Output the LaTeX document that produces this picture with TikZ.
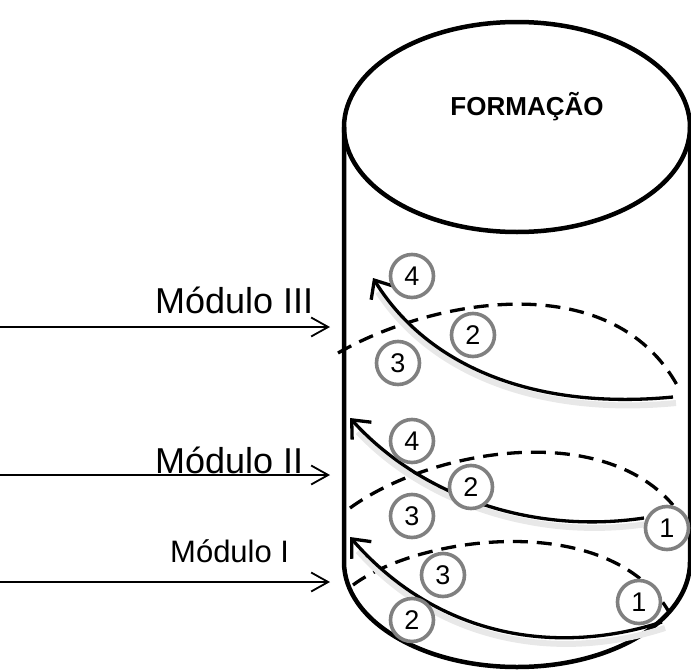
\documentclass[tikz,border=0pt]{standalone}
\usepackage{fontspec}
\setmainfont{Liberation Sans}
\usetikzlibrary{arrows.meta}
\definecolor{ringgray}{HTML}{808080}
\tikzset{
  cyl/.style={line width=4.5pt, black},
  backring/.style={line width=3.3pt, dash pattern=on 15pt off 9pt},
  frontring/.style={line width=3.3pt, -{Straight Barb[length=15pt,width=26pt,line width=3.3pt]}},
  shadowring/.style={line width=6pt, black!9},
  modarrow/.style={line width=1.8pt, -{Straight Barb[length=17pt,width=19pt,line width=1.8pt]}},
  stepnum/.style={circle, draw=ringgray, line width=3.6pt, fill=white, minimum size=43pt, inner sep=0pt, font=\fontsize{27pt}{29pt}\selectfont},
  modlabel/.style={inner sep=0pt, font=\fontsize{36pt}{40pt}\selectfont},
}
\begin{document}
\begin{tikzpicture}[x=1pt,y=-1pt]
\useasboundingbox (0,0) rectangle (691,672);
\clip (0,0) rectangle (691,672);

% cylinder
\draw[cyl] (517,127) ellipse [x radius=173pt, y radius=105pt];
\draw[cyl] (344,127) -- (344,562) arc[start angle=180, end angle=360, x radius=173pt, y radius=105pt] -- (690,127);
\node[font=\bfseries\fontsize{26pt}{28pt}\selectfont] (form) at (527,107) {FORMAÇÃO};

% coordinates
\coordinate (b3l) at (338,353); \coordinate (b3r) at (677,385);
\coordinate (f3r) at (673,397); \coordinate (f3t) at (373,278);
\coordinate (b2l) at (350,508); \coordinate (b2r) at (673,505);
\coordinate (f2r) at (644,518); \coordinate (f2t) at (350,418);
\coordinate (b1l) at (353,585); \coordinate (b1r) at (669,612);
\coordinate (f1r) at (662,622); \coordinate (f1t) at (350,537);

% module III
\draw[backring] (b3l) .. controls (430,300) and (610,265) .. (b3r);
\draw[shadowring] ([shift={(3,6)}]f3r) .. controls (543,416) and (433,376) .. (378,292);
\draw[frontring] (f3r) .. controls (540,410) and (430,370) .. (f3t);

% module II
\draw[backring] (b2l) .. controls (430,450) and (600,420) .. (b2r);
\draw[shadowring] ([shift={(3,6)}]f2r) .. controls (533,541) and (423,501) .. (358,432);
\draw[frontring] (f2r) .. controls (530,535) and (420,495) .. (f2t);

% module I
\draw[backring] (b1l) .. controls (420,535) and (610,510) .. (b1r);
\draw[shadowring] ([shift={(3,6)}]f1r) .. controls (563,661) and (443,646) .. (358,551);
\draw[frontring] (f1r) .. controls (560,655) and (440,640) .. (f1t);

% step circles
\node[stepnum] (m3s4) at (412,276) {4};
\node[stepnum] (m3s2) at (473,335) {2};
\node[stepnum] (m3s3) at (398,363) {3};
\node[stepnum] (m2s4) at (412,441) {4};
\node[stepnum] (m2s2) at (471,487) {2};
\node[stepnum] (m2s3) at (412,516) {3};
\node[stepnum] (m2s1) at (667,528) {1};
\node[stepnum] (m1s3) at (443,575) {3};
\node[stepnum] (m1s1) at (639,602) {1};
\node[stepnum] (m1s2) at (412,620) {2};

% module arrows
\coordinate (a3s) at (0,327); \coordinate (a3e) at (330,327);
\coordinate (a2s) at (0,475); \coordinate (a2e) at (330,475);
\coordinate (a1s) at (0,582); \coordinate (a1e) at (330,582);
\draw[modarrow] (a3s) -- (a3e);
\draw[modarrow] (a2s) -- (a2e);
\draw[modarrow] (a1s) -- (a1e);
\node[modlabel, anchor=base west] (l3) at (155,313) {Módulo III};
\node[modlabel, anchor=base west] (l2) at (155,473) {Módulo II};
\node[modlabel, anchor=base west, font=\fontsize{31pt}{34pt}\selectfont] (l1) at (170,562) {Módulo I};
\end{tikzpicture}
\end{document}
